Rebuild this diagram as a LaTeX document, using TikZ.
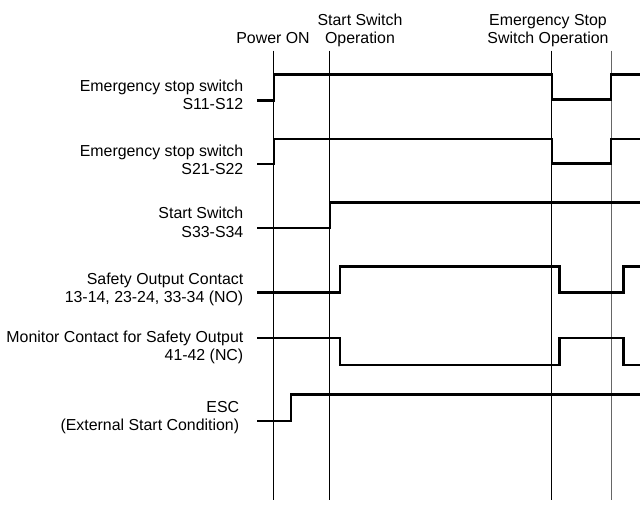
\documentclass[tikz,border=0pt]{standalone}
\usepackage{fontspec}
\setmainfont{Liberation Sans}
\begin{document}
\begin{tikzpicture}[x=1pt,y=-1pt,
  lbl/.style={font=\fontsize{15.9}{18}\selectfont, inner sep=0pt, align=right, anchor=base east},
  toplbl/.style={font=\fontsize{15.9}{17.3}\selectfont, inner sep=0pt, align=center, anchor=base},
  guide/.style={line width=0.9pt},
  sig/.style={line width=2.4pt, line join=miter}]
\useasboundingbox (0,0) rectangle (640,505);

% guide lines
\foreach \n/\x/\c in {1/273.3/black, 2/329.3/black, 3/551.7/black, 4/611/black!60}{
  \coordinate (g\n t) at (\x,50.7);
  \coordinate (g\n b) at (\x,500);
  \draw[guide, draw=\c] (g\n t) -- (g\n b);
}

% top labels (base anchor = last line baseline)
\node[toplbl] (tpow) at (273,43.3) {Power ON};
\node[toplbl] (tstart) at (360,43.3) {Start Switch\\Operation};
\node[toplbl] (testop) at (548,43.3) {Emergency Stop\\Switch Operation};

% left labels
\node[lbl] (l1) at (243.5,110) {Emergency stop switch\\S11-S12};
\node[lbl] (l2) at (243.5,175) {Emergency stop switch\\S21-S22};
\node[lbl] (l3) at (243.5,237) {Start Switch\\S33-S34};
\node[lbl] (l4) at (243.5,302) {Safety Output Contact\\13-14, 23-24, 33-34 (NO)};
\node[lbl] (l5) at (243.5,360.5) {Monitor Contact for Safety Output\\41-42 (NC)};
\node[lbl] (l6) at (239.3,430) {ESC\\(External Start Condition)};

% signals
\draw[sig] (257,100.5) -- (274,100.5) -- (274,74.7) -- (551.7,74.7) -- (551.7,99.5) -- (611,99.5) -- (611,74.7) -- (641,74.7);
\draw[sig] (257,164.3) -- (274,164.3) -- (274,139) -- (551.7,139) -- (551.7,163.5) -- (611,163.5) -- (611,139) -- (641,139);
\draw[sig] (257,228.3) -- (330,228.3) -- (330,202.7) -- (641,202.7);
\draw[sig] (257,292.5) -- (340,292.5) -- (340,266.7) -- (559.5,266.7) -- (559.5,292.3) -- (623.5,292.3) -- (623.5,266.7) -- (641,266.7);
\draw[sig] (257,338) -- (340,338) -- (340,365) -- (559.5,365) -- (559.5,338) -- (623.5,338) -- (623.5,365) -- (641,365);
\draw[sig] (257,421) -- (291,421) -- (291,394.3) -- (641,394.3);
\end{tikzpicture}
\end{document}
